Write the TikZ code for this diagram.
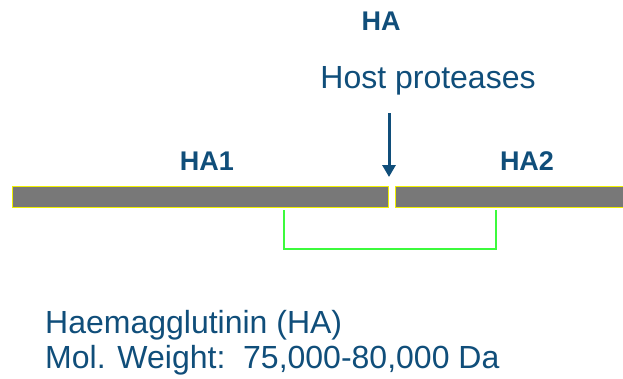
\documentclass[tikz,border=0pt]{standalone}
\usepackage{fontspec}
\setmainfont{Liberation Sans}
\usetikzlibrary{arrows.meta}
\definecolor{tblue}{RGB}{16,78,122}
\definecolor{bargray}{RGB}{120,120,120}
\definecolor{baryel}{RGB}{240,240,0}
\definecolor{brgreen}{RGB}{60,250,60}
\tikzset{
  lbl/.style={text=tblue, font=\fontsize{27}{30}\selectfont\bfseries, anchor=base, inner sep=0pt},
  txt/.style={text=tblue, font=\fontsize{32}{36}\selectfont, anchor=base west, inner sep=0pt},
  seg/.style={fill=bargray, draw=baryel, line width=1.4pt, inner sep=0pt, minimum height=21pt, anchor=north west},
  brk/.style={draw=brgreen, line width=1.2pt},
}
\begin{document}
\begin{tikzpicture}[x=1pt,y=-1pt]
\useasboundingbox (0,0) rectangle (623,378);
\begin{scope}
\clip (0,0) rectangle (623,378);
\node[seg, minimum width=376pt] (s1) at (12,185.5) {};
\node[seg, minimum width=240pt] (s2) at (395,185.5) {};
\end{scope}
\node[lbl] (ha) at (381,30) {HA};
\node[txt, anchor=base] (hp) at (428,88) {Host proteases};
\node[lbl] (ha1) at (207,170) {HA1};
\node[lbl] (ha2) at (527,170) {HA2};
\coordinate (a0) at (389,113);
\coordinate (a1) at (389,177);
\draw[tblue, line width=3pt, -{Triangle[length=12pt,width=13pt]}] (a0) -- (a1);
\coordinate (b0) at (284,210);
\coordinate (b1) at (496,210);
\draw[brk] (b0) |- (390,249) -| (b1);
\node[txt] (t1) at (45,333) {Haemagglutinin (HA)};
\node[txt] (t2) at (45,368) {Mol. Weight:\ \ 75,000-80,000 Da};
\end{tikzpicture}
\end{document}
